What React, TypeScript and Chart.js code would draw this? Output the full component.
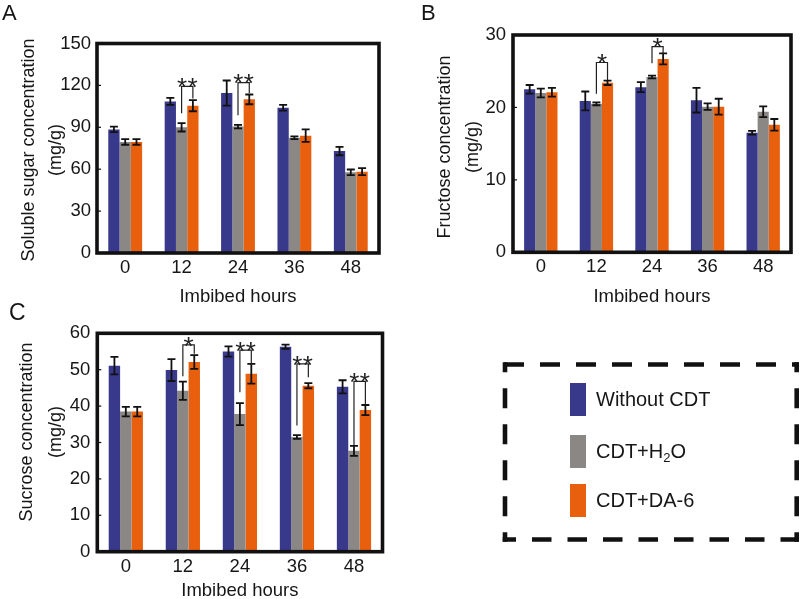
import React, { useEffect, useRef } from 'react';
import { Chart, registerables } from 'chart.js';

Chart.register(...registerables);

// ---------- data ----------
const categories = ['0', '12', '24', '36', '48'];
const seriesNames = ['Without CDT', 'CDT+H2O', 'CDT+DA-6'];
const seriesColors = ['#39398b', '#8a8785', '#e8600e'];

// A: soluble sugar (mg/g)
const sugarWithout = [88.5, 108.5, 114.5, 104, 73];
const sugarWithoutErr = [2, 2.5, 9, 2, 3];
const sugarH2O = [79.5, 90, 90.5, 82.5, 57.8];
const sugarH2OErr = [2, 3, 1.3, 1, 2];
const sugarDA6 = [79.5, 105.5, 110, 84, 58.2];
const sugarDA6Err = [2, 4, 3.5, 4.5, 2.5];
const sugarTicks = [0, 30, 60, 90, 120, 150];
const sugarSigCats = [1, 2];
const sugarSigTop = [119.3, 122];
const sugarSigLeftEnd = [100, 98.6];
const sugarSigRightEnd = [110.7, 114.3];
const sugarSigLabels = ['**', '**'];

// B: fructose (mg/g)
const fruWithout = [22.5, 20.9, 22.8, 21.0, 16.5];
const fruWithoutErr = [0.6, 1.3, 0.7, 1.7, 0.25];
const fruH2O = [22.0, 20.5, 24.2, 20.1, 19.4];
const fruH2OErr = [0.6, 0.2, 0.2, 0.45, 0.75];
const fruDA6 = [22.1, 23.4, 26.7, 20.1, 17.6];
const fruDA6Err = [0.6, 0.3, 0.75, 1.1, 0.8];
const fruTicks = [0, 10, 20, 30];
const fruSigCats = [1, 2];
const fruSigTop = [26.2, 28.4];
const fruSigLeftEnd = [21.9, 26.1];
const fruSigRightEnd = [23.8, 27.3];
const fruSigLabels = ['*', '*'];

// C: sucrose (mg/g)
const sucWithout = [51.1, 49.9, 55.0, 56.3, 45.3];
const sucWithoutErr = [2.4, 3.0, 1.4, 0.6, 1.8];
const sucH2O = [38.5, 44.2, 37.8, 31.5, 27.7];
const sucH2OErr = [1.3, 2.5, 3.0, 0.5, 1.4];
const sucDA6 = [38.5, 52.1, 48.9, 45.6, 38.9];
const sucDA6Err = [1.3, 1.9, 2.7, 0.7, 1.4];
const sucTicks = [0, 10, 20, 30, 40, 50, 60];
const sucSigCats = [1, 2, 3, 4];
const sucSigTop = [56.8, 55.4, 51.6, 46.8];
const sucSigLeftEnd = [48.2, 43.8, 34.7, 29.2];
const sucSigRightEnd = [54.4, 51.6, 47.9, 40.3];
const sucSigLabels = ['*', '**', '**', '**'];

// ---------- styling ----------
const FONT = "'Liberation Sans', Arial, Helvetica, sans-serif";
const INK = '#161616';
const STAR_SIZE = 26;

type Panel = {
  values: number[][];
  errors: number[][];
  ticks: number[];
  yTitle: string[];
  sig: { cats: number[]; top: number[]; left: number[]; right: number[]; labels: string[] };
  box: { left: number; top: number; w: number; h: number };
  area: { l: number; r: number; t: number; b: number };
  yTitlePos: { x1: number; x2: number; yc: number };
  yPad: number;
  xPad: number;
  xTitlePb: number;
};

const panels: Panel[] = [
  {
    values: [sugarWithout, sugarH2O, sugarDA6],
    errors: [sugarWithoutErr, sugarH2OErr, sugarDA6Err],
    ticks: sugarTicks,
    yTitle: ['Soluble sugar concentration', '(mg/g)'],
    sig: { cats: sugarSigCats, top: sugarSigTop, left: sugarSigLeftEnd, right: sugarSigRightEnd, labels: sugarSigLabels },
    box: { left: 0, top: 0, w: 400, h: 310 },
    area: { l: 97, r: 379, t: 43.5, b: 253 },
    yTitlePos: { x1: 29, x2: 56, yc: 150 },
    yPad: 6,
    xPad: 3.5,
    xTitlePb: 2,
  },
  {
    values: [fruWithout, fruH2O, fruDA6],
    errors: [fruWithoutErr, fruH2OErr, fruDA6Err],
    ticks: fruTicks,
    yTitle: ['Fructose concentration', '(mg/g)'],
    sig: { cats: fruSigCats, top: fruSigTop, left: fruSigLeftEnd, right: fruSigRightEnd, labels: fruSigLabels },
    box: { left: 400, top: 0, w: 400, h: 310 },
    area: { l: 113, r: 391, t: 35, b: 252.3 },
    yTitlePos: { x1: 45.5, x2: 73.5, yc: 147 },
    yPad: 7,
    xPad: 4,
    xTitlePb: 2,
  },
  {
    values: [sucWithout, sucH2O, sucDA6],
    errors: [sucWithoutErr, sucH2OErr, sucDA6Err],
    ticks: sucTicks,
    yTitle: ['Sucrose concentration', '(mg/g)'],
    sig: { cats: sucSigCats, top: sucSigTop, left: sucSigLeftEnd, right: sucSigRightEnd, labels: sucSigLabels },
    box: { left: 0, top: 295, w: 400, h: 310 },
    area: { l: 97.3, r: 382.5, t: 38.3, b: 256.7 },
    yTitlePos: { x1: 27.5, x2: 56, yc: 137 },
    yPad: 7,
    xPad: 4,
    xTitlePb: 3,
  },
];

function buildChart(canvas: HTMLCanvasElement, p: Panel) {
  const { area, box } = p;
  const yMin = p.ticks[0];
  const yMax = p.ticks[p.ticks.length - 1];
  const step = p.ticks[1] - p.ticks[0];

  const panelPlugin = {
    id: 'panelExtras',
    afterDatasetsDraw(chart: any) {
      const ctx = chart.ctx as CanvasRenderingContext2D;
      const ys = chart.scales.y;
      // error bars
      ctx.save();
      ctx.strokeStyle = '#111';
      ctx.lineWidth = 1.8;
      chart.data.datasets.forEach((ds: any, i: number) => {
        const meta = chart.getDatasetMeta(i);
        meta.data.forEach((bar: any, j: number) => {
          const v = ds.data[j];
          const e = ds.errors[j];
          const x = bar.x;
          const yt = ys.getPixelForValue(v + e);
          const yb = ys.getPixelForValue(v - e);
          ctx.beginPath();
          ctx.moveTo(x, yt);
          ctx.lineTo(x, yb);
          ctx.moveTo(x - 4, yt);
          ctx.lineTo(x + 4, yt);
          ctx.moveTo(x - 4, yb);
          ctx.lineTo(x + 4, yb);
          ctx.stroke();
        });
      });
      ctx.restore();
      // significance brackets
      ctx.save();
      ctx.strokeStyle = '#222';
      ctx.lineWidth = 1.2;
      ctx.fillStyle = '#222';
      ctx.font = `${STAR_SIZE}px ${FONT}`;
      ctx.textAlign = 'center';
      ctx.textBaseline = 'alphabetic';
      const gMeta = chart.getDatasetMeta(1);
      const oMeta = chart.getDatasetMeta(2);
      p.sig.cats.forEach((c, k) => {
        const xg = gMeta.data[c].x;
        const xo = oMeta.data[c].x;
        const yTop = ys.getPixelForValue(p.sig.top[k]);
        ctx.beginPath();
        ctx.moveTo(xg, ys.getPixelForValue(p.sig.left[k]));
        ctx.lineTo(xg, yTop);
        ctx.lineTo(xo, yTop);
        ctx.lineTo(xo, ys.getPixelForValue(p.sig.right[k]));
        ctx.stroke();
        const n = p.sig.labels[k].length;
        const mid = (xg + xo) / 2;
        for (let s = 0; s < n; s++) {
          const sx = mid + (s - (n - 1) / 2) * 10.5;
          ctx.fillText('*', sx, yTop - 5.5 + 0.586 * STAR_SIZE);
        }
      });
      ctx.restore();
    },
    afterDraw(chart: any) {
      const ctx = chart.ctx as CanvasRenderingContext2D;
      const a = chart.chartArea;
      const ys = chart.scales.y;
      ctx.save();
      // frame
      ctx.strokeStyle = '#111';
      ctx.lineWidth = 3.6;
      ctx.strokeRect(a.left, a.top, a.right - a.left, a.bottom - a.top);
      // small inner ticks on y axis
      ctx.lineWidth = 1.2;
      p.ticks.slice(1, -1).forEach((t) => {
        const y = ys.getPixelForValue(t);
        ctx.beginPath();
        ctx.moveTo(a.left, y);
        ctx.lineTo(a.left + 4, y);
        ctx.stroke();
      });
      // y-axis title (two lines, rotated)
      ctx.fillStyle = INK;
      ctx.font = `18px ${FONT}`;
      ctx.textAlign = 'center';
      ctx.textBaseline = 'middle';
      const xs = [p.yTitlePos.x1, p.yTitlePos.x2];
      p.yTitle.forEach((line, i) => {
        ctx.save();
        ctx.translate(xs[i], p.yTitlePos.yc);
        ctx.rotate(-Math.PI / 2);
        ctx.fillText(line, 0, 0);
        ctx.restore();
      });
      ctx.restore();
    },
  };

  return new Chart(canvas, {
    type: 'bar',
    data: {
      labels: categories,
      datasets: p.values.map((vals, i) => ({
        label: seriesNames[i],
        data: vals,
        errors: p.errors[i],
        backgroundColor: seriesColors[i],
        borderWidth: 0,
        categoryPercentage: 0.6,
        barPercentage: 1.0,
      })) as any,
    },
    options: {
      animation: false,
      responsive: false,
      maintainAspectRatio: false,
      devicePixelRatio: 1,
      layout: { padding: { top: area.t, right: box.w - area.r, left: 0, bottom: 0 } },
      plugins: { legend: { display: false }, tooltip: { enabled: false }, title: { display: false } },
      scales: {
        x: {
          type: 'category',
          grid: { display: false, drawTicks: false },
          border: { display: false },
          ticks: { font: { family: FONT, size: 18.5 }, color: INK, padding: p.xPad, maxRotation: 0, autoSkip: false },
          title: {
            display: true,
            text: 'Imbibed hours',
            font: { family: FONT, size: 18.5 },
            color: INK,
            padding: { top: 0, bottom: p.xTitlePb },
          },
          afterFit: (s: any) => {
            s.height = box.h - area.b;
          },
        },
        y: {
          min: yMin,
          max: yMax,
          grid: { display: false, drawTicks: false },
          border: { display: false },
          ticks: { stepSize: step, font: { family: FONT, size: 18.5 }, color: INK, padding: p.yPad },
          afterFit: (s: any) => {
            s.width = area.l;
          },
        },
      },
    } as any,
    plugins: [panelPlugin],
  });
}

function PanelCanvas({ p }: { p: Panel }) {
  const ref = useRef<HTMLCanvasElement | null>(null);
  useEffect(() => {
    if (!ref.current) return;
    const c = buildChart(ref.current, p);
    return () => c.destroy();
  }, [p]);
  return (
    <canvas
      ref={ref}
      width={p.box.w}
      height={p.box.h}
      style={{ position: 'absolute', left: p.box.left, top: p.box.top, width: p.box.w, height: p.box.h }}
    />
  );
}

const letterStyle = (left: number, top: number, size: number): React.CSSProperties => ({
  position: 'absolute',
  left,
  top,
  fontSize: size,
  lineHeight: `${size}px`,
  fontFamily: FONT,
  color: INK,
});

const legendRows = [
  { top: 383, h: 33 },
  { top: 434.5, h: 33 },
  { top: 484, h: 33 },
];

export default function App() {
  return (
    <div
      style={{
        position: 'fixed',
        left: 0,
        top: 0,
        width: 800,
        height: 599,
        overflow: 'hidden',
        background: '#fff',
        fontFamily: FONT,
      }}
    >
      {panels.map((p, i) => (
        <PanelCanvas key={i} p={p} />
      ))}
      <div style={letterStyle(2, 2, 22)}>A</div>
      <div style={letterStyle(421, 2, 22)}>B</div>
      <div style={letterStyle(9, 301, 23)}>C</div>

      <svg width={800} height={599} style={{ position: 'absolute', left: 0, top: 0, pointerEvents: 'none' }}>
        <g stroke="#111" strokeWidth={4.6} fill="none">
          <line x1={502.7} y1={364.5} x2={799} y2={364.5} strokeDasharray="20 16" strokeDashoffset={-1.3} />
          <line x1={799} y1={539.5} x2={502.7} y2={539.5} strokeDasharray="19.5 16" strokeDashoffset={1} />
          <line x1={505} y1={362.2} x2={505} y2={541.8} strokeDasharray="20 16" strokeDashoffset={10} />
          <line x1={796.7} y1={362.2} x2={796.7} y2={541.8} strokeDasharray="20 16" strokeDashoffset={10} />
        </g>
      </svg>

      {seriesNames.map((name, i) => (
        <div
          key={name}
          style={{
            position: 'absolute',
            left: 570,
            top: legendRows[i].top,
            height: legendRows[i].h,
            display: 'flex',
            alignItems: 'center',
            whiteSpace: 'nowrap',
          }}
        >
          <div style={{ width: 16, height: legendRows[i].h, background: seriesColors[i] }} />
          <div style={{ marginLeft: 10, fontSize: 20, fontFamily: FONT, color: INK }}>
            {name === 'CDT+H2O' ? (
              <span>
                CDT+H
                <span style={{ fontSize: 13, position: 'relative', top: 4 }}>2</span>O
              </span>
            ) : (
              name
            )}
          </div>
        </div>
      ))}
    </div>
  );
}
